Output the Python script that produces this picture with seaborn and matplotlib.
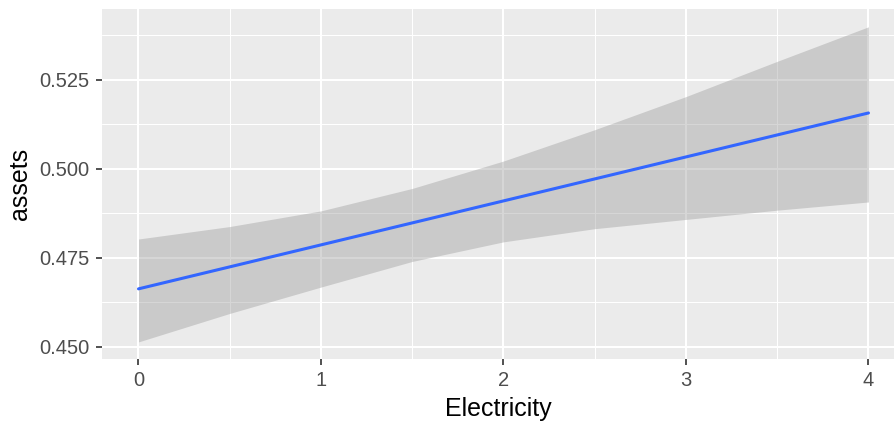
import matplotlib
matplotlib.use("Agg")
import matplotlib.pyplot as plt
import seaborn as sns
import numpy as np
import pandas as pd
from matplotlib.ticker import MultipleLocator

# Fitted linear trend of assets against electricity
fit_x = [0, 4]
fit_y = [0.4663, 0.5157]

# 95% confidence band around the fit
band_x = [0, 0.5, 1, 1.5, 2, 2.5, 3, 3.5, 4]
band_lower = [0.4514, 0.4594, 0.4668, 0.4740, 0.4795, 0.4832, 0.4858, 0.4884, 0.4907]
band_upper = [0.4803, 0.4838, 0.4882, 0.4945, 0.5022, 0.5110, 0.5203, 0.5302, 0.5399]

x_ticks = [0, 1, 2, 3, 4]
y_ticks = [0.450, 0.475, 0.500, 0.525]
y_tick_labels = ["0.450", "0.475", "0.500", "0.525"]

sns.set_theme(style="darkgrid", rc={
    "axes.facecolor": "#EBEBEB",
    "figure.facecolor": "white",
    "grid.color": "white",
    "axes.edgecolor": "#EBEBEB",
})
plt.rcParams["font.family"] = ["Liberation Sans", "DejaVu Sans"]

fig = plt.figure(figsize=(8.94, 4.38), dpi=100)
ax = fig.add_axes([102 / 894, 1 - 359 / 438, 1 - 102 / 894, (359 - 9) / 438])

fit_df = pd.DataFrame({"Electricity": fit_x, "assets": fit_y})
band_df = pd.DataFrame({"Electricity": band_x, "lower": band_lower, "upper": band_upper})

ax.fill_between(band_df["Electricity"], band_df["lower"], band_df["upper"],
                color="#999999", alpha=0.4, linewidth=0, zorder=2)
sns.lineplot(data=fit_df, x="Electricity", y="assets", ax=ax,
             color="#3366FF", linewidth=2.2, zorder=3)

ax.set_xlim(-0.2, 4.14)
ax.set_ylim(0.4466, 0.5449)

ax.set_xticks(x_ticks)
ax.set_xticklabels([str(v) for v in x_ticks])
ax.set_yticks(y_ticks)
ax.set_yticklabels(y_tick_labels)
ax.xaxis.set_minor_locator(MultipleLocator(0.5))
ax.yaxis.set_minor_locator(MultipleLocator(0.0125))

ax.grid(which="major", color="white", linewidth=1.5)
ax.grid(which="minor", color="white", linewidth=0.75)
ax.set_axisbelow(True)

for s in ax.spines.values():
    s.set_visible(False)

ax.tick_params(axis="both", which="major", length=4, width=1.2, color="#333333",
               labelsize=14.5, labelcolor="#4D4D4D", pad=5,
               bottom=True, left=True)
ax.tick_params(axis="both", which="minor", length=0)

ax.set_xlabel("Electricity", fontsize=18, color="black", labelpad=5)
ax.set_ylabel("assets", fontsize=18, color="black", labelpad=5)

fig.savefig("out.png", dpi=100)
